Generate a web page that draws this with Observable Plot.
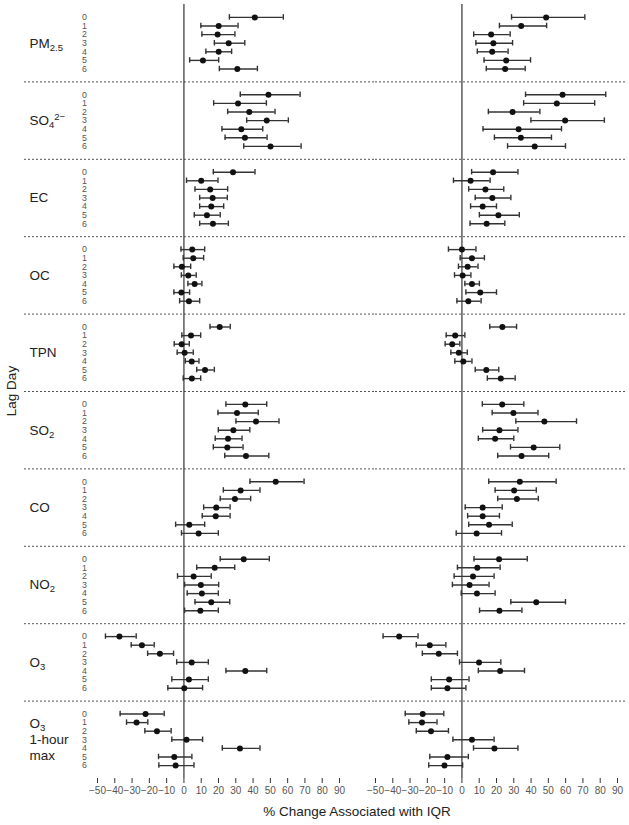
<!DOCTYPE html>
<html>
<head>
<meta charset="utf-8">
<script src="https://cdn.jsdelivr.net/npm/d3@7"></script>
<script src="https://cdn.jsdelivr.net/npm/@observablehq/plot@0.6"></script>
<style>
  body { margin: 0; background: #fff; }
  #wrap { position: relative; width: 629px; height: 825px; font-family: "Liberation Sans", Arial, Helvetica, sans-serif; color: #222; }
  .ttl { position: absolute; font-size: 13.5px; line-height: 16px; white-space: nowrap; }
</style>
</head>
<body>
<div id="wrap"></div>
<script>
// ---- data ----
const groups = ["PM_{2.5}", "SO_{4}^{2−}", "EC", "OC", "TPN", "SO_{2}", "CO", "NO_{2}", "O_{3}", "O_{3}\n1-hour\nmax"];
const lags = [0, 1, 2, 3, 4, 5, 6];
const panels = ["Left", "Right"];
const xTicks = [-50, -40, -30, -20, -10, 0, 10, 20, 30, 40, 50, 60, 70, 80, 90];

const leftEst = [
  [41.0, 20.1, 19.5, 25.9, 20.1, 11.0, 30.9],
  [48.9, 31.3, 37.8, 47.9, 33.2, 35.3, 50.1],
  [28.4, 10.0, 15.2, 16.6, 15.8, 13.3, 16.8],
  [4.8, 5.4, -1.2, 2.5, 6.2, -1.5, 2.9],
  [20.7, 4.1, -1.3, 0.4, 4.5, 12.2, 4.6],
  [35.5, 30.7, 41.7, 28.6, 25.5, 25.1, 35.9],
  [53.1, 32.8, 29.5, 18.7, 18.4, 3.1, 8.5],
  [34.6, 17.8, 5.6, 9.8, 10.4, 15.8, 9.5],
  [-37.3, -24.3, -13.9, 4.5, 35.5, 2.9, 0.2],
  [-22.2, -27.4, -15.6, 1.5, 32.4, -5.6, -4.8]
];
const leftLo = [
  [26.3, 9.8, 10.4, 17.6, 12.7, 3.3, 20.5],
  [32.6, 17.2, 25.3, 36.3, 22.0, 23.8, 34.6],
  [17.0, 1.5, 6.4, 9.1, 9.1, 6.0, 9.1],
  [-1.7, -0.4, -5.8, -1.5, 2.3, -5.8, -2.5],
  [15.1, -1.2, -5.6, -3.9, 0.8, 7.4, -0.4],
  [24.3, 19.7, 30.1, 19.9, 18.1, 17.0, 23.6],
  [38.2, 22.8, 21.0, 11.4, 10.6, -4.8, -1.4],
  [21.0, 7.4, -3.7, 0.4, 1.9, 6.4, 0.4],
  [-45.4, -30.5, -21.0, -4.2, 24.3, -7.0, -9.3],
  [-36.9, -33.2, -22.6, -7.0, 22.2, -14.7, -14.5]
];
const leftHi = [
  [57.5, 31.3, 29.5, 35.2, 27.6, 20.1, 42.5],
  [67.2, 47.7, 52.7, 60.4, 45.6, 48.1, 67.8],
  [41.1, 19.7, 25.3, 25.1, 23.0, 21.0, 25.7],
  [12.0, 11.4, 3.9, 7.1, 10.4, 3.3, 9.1],
  [26.8, 9.7, 3.1, 5.4, 8.7, 17.6, 9.7],
  [47.9, 43.0, 55.0, 38.1, 33.6, 34.2, 49.1],
  [69.5, 44.0, 38.6, 26.7, 26.7, 12.0, 19.9],
  [49.4, 29.4, 15.8, 20.1, 19.9, 26.5, 19.9],
  [-27.6, -17.2, -6.0, 14.1, 47.9, 14.1, 10.8],
  [-11.4, -20.9, -7.4, 10.8, 44.0, 4.6, 5.8]
];
const rightEst = [
  [48.7, 34.3, 16.9, 18.2, 17.5, 25.6, 25.0],
  [58.2, 54.9, 29.3, 59.7, 32.8, 34.1, 42.1],
  [18.0, 5.0, 13.6, 17.6, 12.0, 21.1, 14.3],
  [0.0, 5.8, 3.3, 0.4, 5.8, 10.6, 3.7],
  [23.4, -3.9, -5.6, -1.8, 0.8, 14.1, 22.5],
  [23.3, 29.8, 47.7, 21.7, 19.2, 41.5, 34.5],
  [33.5, 30.2, 31.8, 12.0, 12.0, 15.7, 8.5],
  [21.5, 8.9, 6.4, 4.4, 8.7, 43.0, 21.7],
  [-36.3, -18.6, -13.4, 9.9, 22.1, -7.4, -8.4],
  [-22.7, -23.1, -17.9, 5.8, 18.8, -8.4, -10.1]
];
const rightLo = [
  [28.7, 21.7, 6.8, 8.1, 8.9, 12.8, 14.1],
  [36.8, 35.7, 15.3, 39.9, 12.2, 18.8, 26.4],
  [5.6, -4.9, 3.9, 7.7, 5.0, 10.1, 4.7],
  [-7.8, -1.0, -2.0, -4.3, 1.7, 2.3, -2.9],
  [16.1, -9.1, -9.7, -6.4, -4.1, 7.7, 14.7],
  [11.8, 17.5, 31.2, 12.0, 9.5, 28.1, 20.7],
  [15.5, 19.2, 20.7, 1.9, 3.3, 3.9, -3.3],
  [7.0, -2.6, -4.5, -5.5, -0.4, 28.3, 10.2],
  [-45.6, -26.4, -22.9, -1.4, 9.5, -17.7, -17.7],
  [-32.8, -30.7, -26.4, -5.2, 6.7, -18.6, -19.2]
];
const rightHi = [
  [71.1, 49.0, 27.9, 29.3, 26.7, 39.7, 36.6],
  [83.2, 76.8, 45.1, 82.4, 57.6, 51.8, 59.9],
  [32.4, 16.3, 24.2, 28.3, 20.0, 33.2, 24.8],
  [8.1, 13.0, 9.3, 5.2, 10.1, 20.0, 11.1],
  [31.6, 1.7, -1.2, 3.1, 5.8, 21.3, 30.8],
  [35.8, 44.0, 66.3, 32.4, 30.0, 56.6, 50.2],
  [54.5, 43.0, 44.2, 23.3, 21.7, 29.1, 22.9],
  [37.8, 22.1, 18.6, 15.7, 19.2, 59.9, 34.7],
  [-25.4, -9.3, -2.6, 22.5, 36.2, 4.1, 2.3],
  [-10.5, -14.4, -7.8, 18.6, 32.4, 3.7, 0.4]
];

// ---- layout helpers ----
const stride = 9;      // slots per pollutant group
const pad = 1.5;       // slots above first / below last row
const capHalf = 0.32;  // half-height of error bar caps (slots)
const lineStep = 1.85; // slots between lines of a multi-line group label
const rowY = (g, lag) => g * stride + lag;

const rows = [];
[[leftEst, leftLo, leftHi, "Left"], [rightEst, rightLo, rightHi, "Right"]].forEach(([E, L, H, panel]) => {
  groups.forEach((name, g) => {
    lags.forEach((lag, i) => {
      rows.push({panel, group: name, lag, y: rowY(g, lag), est: E[g][i], lo: L[g][i], hi: H[g][i]});
    });
  });
});

const lagLabels = [];
groups.forEach((name, g) => lags.forEach(lag => lagLabels.push({panel: "Left", y: rowY(g, lag), text: String(lag)})));

const groupLabels = [];
groups.forEach((name, g) => {
  const lines = name.split("\n");
  lines.forEach((t, i) => groupLabels.push({panel: "Left", y: rowY(g, 3) + (i - (lines.length - 1) / 2) * lineStep, text: t}));
});

const seps = d3.range(1, groups.length).map(g => g * stride - pad);
const sepsL = seps.map(y => ({panel: "Left", y}));
const sepsR = seps.map(y => ({panel: "Right", y}));

const chart = Plot.plot({
  width: 629,
  height: 800,
  marginTop: 4,
  marginBottom: 22,
  marginLeft: 97,
  marginRight: 12,
  style: {fontFamily: '"Liberation Sans", Arial, Helvetica, sans-serif', fontSize: "10px", color: "#222", background: "#fff"},
  fx: {domain: panels, axis: null, paddingInner: 0.1295, paddingOuter: 0},
  x: {domain: [-50, 90]},
  y: {domain: [-pad, (groups.length - 1) * stride + 6 + pad], axis: null, reverse: true},
  marks: [
    Plot.ruleY(sepsL, {y: "y", fx: "panel", stroke: "#555", strokeDasharray: "2,2", strokeWidth: 1, insetLeft: -73, insetRight: -36}),
    Plot.ruleY(sepsR, {y: "y", fx: "panel", stroke: "#555", strokeDasharray: "2,2", strokeWidth: 1, insetRight: -8}),
    Plot.ruleX([0], {stroke: "#333", strokeWidth: 1.2}),
    Plot.ruleY(rows, {y: "y", x1: "lo", x2: "hi", fx: "panel", stroke: "#333", strokeWidth: 1.4}),
    Plot.ruleX(rows, {x: "lo", y1: d => d.y - capHalf, y2: d => d.y + capHalf, fx: "panel", stroke: "#333", strokeWidth: 1.4}),
    Plot.ruleX(rows, {x: "hi", y1: d => d.y - capHalf, y2: d => d.y + capHalf, fx: "panel", stroke: "#333", strokeWidth: 1.4}),
    Plot.dot(rows, {x: "est", y: "y", fx: "panel", r: 3, fill: "#111", stroke: "none"}),
    Plot.text(lagLabels, {y: "y", text: "text", fx: "panel", frameAnchor: "left", dx: -13, textAnchor: "middle", fontSize: 8.8, fill: "#555"}),
    Plot.text(groupLabels, {y: "y", text: "text", fx: "panel", frameAnchor: "left", dx: -68, textAnchor: "start", fontSize: 13.5, fill: "#222"}),
    Plot.axisX({anchor: "bottom", ticks: xTicks, tickFormat: d3.format("d"), tickSize: 5, tickPadding: 3, line: true, label: null, fontSize: 10, fill: "#555", stroke: "#333"})
  ]
});

// sub/superscripts in group labels
d3.select(chart).selectAll("text").each(function () {
  const raw = this.textContent;
  if (!/[_^]\{/.test(raw) || this.querySelector("tspan")) return;
  const el = d3.select(this);
  el.text(null);
  let shift = 0;
  const re = /([_^])\{([^}]*)\}|([^_^]+)/g;
  let m;
  while ((m = re.exec(raw))) {
    const ts = el.append("tspan");
    if (m[3] !== undefined) {
      ts.text(m[3]).attr("dy", -shift); shift = 0;
    } else if (m[1] === "_") {
      const target = 3;
      ts.text(m[2]).attr("font-size", 9.5).attr("dy", target - shift); shift = target;
    } else {
      const target = -5;
      ts.text(m[2]).attr("font-size", 9.5).attr("dy", target - shift); shift = target;
    }
  }
});

const wrap = document.getElementById("wrap");
wrap.appendChild(chart);

const yTitle = document.createElement("div");
yTitle.className = "ttl";
yTitle.textContent = "Lag Day";
Object.assign(yTitle.style, {left: "-38px", top: "383px", width: "100px", textAlign: "center", transform: "rotate(-90deg)"});
wrap.appendChild(yTitle);

const xTitle = document.createElement("div");
xTitle.className = "ttl";
xTitle.textContent = "% Change Associated with IQR";
Object.assign(xTitle.style, {left: "357px", top: "804px", transform: "translateX(-50%)"});
wrap.appendChild(xTitle);
</script>
</body>
</html>
